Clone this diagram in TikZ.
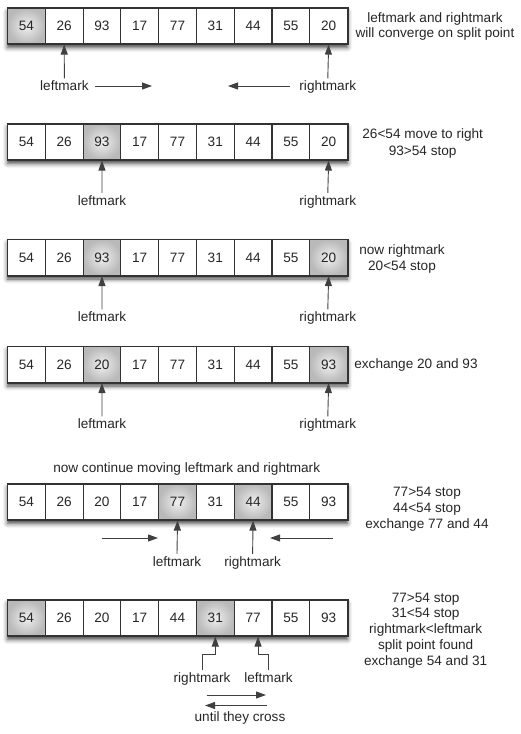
\documentclass[tikz,border=0pt]{standalone}
\usepackage{fontspec}
\setmainfont{Liberation Sans}
\usetikzlibrary{arrows.meta,shadows.blur}
\newcommand\qf{\fontsize{13.6}{16}\selectfont}
\tikzset{
  cell/.style={draw=black!80, line width=1.1pt, fill=white, minimum width=37.78pt,
    minimum height=36pt, inner sep=0pt, font=\qf, text=black!85},
  hot/.style={cell, inner color=gray!12, outer color=gray!55},
  shadowbox/.style={fill=white, minimum width=340pt, minimum height=36pt, inner sep=0pt,
    blur shadow={shadow xshift=0pt, shadow yshift=-3.5pt, shadow blur radius=4.5pt, shadow opacity=75}},
  framestroke/.style={draw=black!80, line width=1.6pt},
  lbl/.style={font=\qf, text=black!85, inner sep=2pt, text height=10pt, text depth=3pt},
  note/.style={font=\qf, text=black!85, align=center, inner sep=0pt},
  ptr/.style={draw=black!75, line width=0.9pt, -{Triangle[length=10pt,width=7pt]}},
}
\newcommand\qrow[3]{%
  \node[shadowbox] (f#1) at (177.5,#2) {};
  \foreach \v/\s [count=\i] in {#3}
    \node[style=\s] (r#1c\i) at ({7.5+37.78*(\i-0.5)},#2) {\v};
  \draw[framestroke] (f#1.north west) rectangle (f#1.south east);
}
\begin{document}
\begin{tikzpicture}[x=1pt,y=-1pt]
\useasboundingbox (0,0) rectangle (521,734);

% row 1
\qrow{1}{26}{54/hot,26/cell,93/cell,17/cell,77/cell,31/cell,44/cell,55/cell,20/cell}
\node[note, font={\fontsize{13.6}{14.3}\selectfont}] (n1) at (435,26.5) {leftmark and rightmark\\will converge on split point};
\node[lbl] (l1) at (64.4,87) {leftmark};
\node[lbl] (r1) at (327.8,87) {rightmark};
\draw[ptr] (l1.north) -- (r1c2.south);
\draw[ptr] (r1.north) -- (r1c9.south);
\coordinate (h1a) at (95,86);
\coordinate (h1b) at (152,86);
\coordinate (h1c) at (290,86);
\coordinate (h1d) at (228,86);
\draw[ptr] (h1a) -- (h1b);
\draw[ptr] (h1c) -- (h1d);

% row 2
\qrow{2}{142}{54/cell,26/cell,93/hot,17/cell,77/cell,31/cell,44/cell,55/cell,20/cell}
\node[note, font={\fontsize{13.6}{16.7}\selectfont}] (n2) at (422.7,143.5) {26<54 move to right\\93>54 stop};
\node[lbl] (l2) at (102,201.5) {leftmark};
\node[lbl] (r2) at (327.8,201.5) {rightmark};
\draw[ptr] (l2.north) -- (r2c3.south);
\draw[ptr] (r2.north) -- (r2c9.south);

% row 3
\qrow{3}{257.5}{54/cell,26/cell,93/hot,17/cell,77/cell,31/cell,44/cell,55/cell,20/hot}
\node[note, font={\fontsize{13.6}{15.7}\selectfont}] (n3) at (402,259) {now rightmark\\20<54 stop};
\node[lbl] (l3) at (102,318) {leftmark};
\node[lbl] (r3) at (327.8,318) {rightmark};
\draw[ptr] (l3.north) -- (r3c3.south);
\draw[ptr] (r3.north) -- (r3c9.south);

% row 4
\qrow{4}{364.5}{54/cell,26/cell,20/hot,17/cell,77/cell,31/cell,44/cell,55/cell,93/hot}
\node[note] (n4) at (416,365) {exchange 20 and 93};
\node[lbl] (l4) at (102,425) {leftmark};
\node[lbl] (r4) at (327.8,425) {rightmark};
\draw[ptr] (l4.north) -- (r4c3.south);
\draw[ptr] (r4.north) -- (r4c9.south);

% row 5
\node[note] (t5) at (186.7,469) {now continue moving leftmark and rightmark};
\qrow{5}{502}{54/cell,26/cell,20/cell,17/cell,77/hot,31/cell,44/hot,55/cell,93/cell}
\node[note, font={\fontsize{13.6}{16.2}\selectfont}] (n5) at (427,509) {77>54 stop\\44<54 stop\\exchange 77 and 44};
\node[lbl] (l5) at (177,562.5) {leftmark};
\node[lbl] (r5) at (252.6,562.5) {rightmark};
\draw[ptr] (l5.north) -- (r5c5.south);
\draw[ptr] (r5.north) -- (r5c7.south);
\coordinate (h5a) at (101.7,538);
\coordinate (h5b) at (158,538);
\coordinate (h5c) at (333,538);
\coordinate (h5d) at (270,538);
\draw[ptr] (h5a) -- (h5b);
\draw[ptr] (h5c) -- (h5d);

% row 6
\qrow{6}{618}{54/hot,26/cell,20/cell,17/cell,44/cell,31/hot,77/cell,55/cell,93/cell}
\node[note, font={\fontsize{13.6}{15.85}\selectfont}] (n6) at (425.7,630.5) {77>54 stop\\31<54 stop\\rightmark<leftmark\\split point found\\exchange 54 and 31};
\node[lbl] (rm6) at (202,679) {rightmark};
\node[lbl] (lm6) at (268.5,679) {leftmark};
\draw[ptr] (rm6.north) -- ++(0,-16) -| (r6c6.south);
\draw[ptr] (lm6.north) -- ++(0,-16) -| ([xshift=5pt]r6c7.south);
\coordinate (h6a) at (206.7,695);
\coordinate (h6b) at (266,695);
\coordinate (h6c) at (267,705.5);
\coordinate (h6d) at (205,705.5);
\draw[ptr] (h6a) -- (h6b);
\draw[ptr] (h6c) -- (h6d);
\node[note] (ut6) at (240,717.5) {until they cross};
\end{tikzpicture}
\end{document}
